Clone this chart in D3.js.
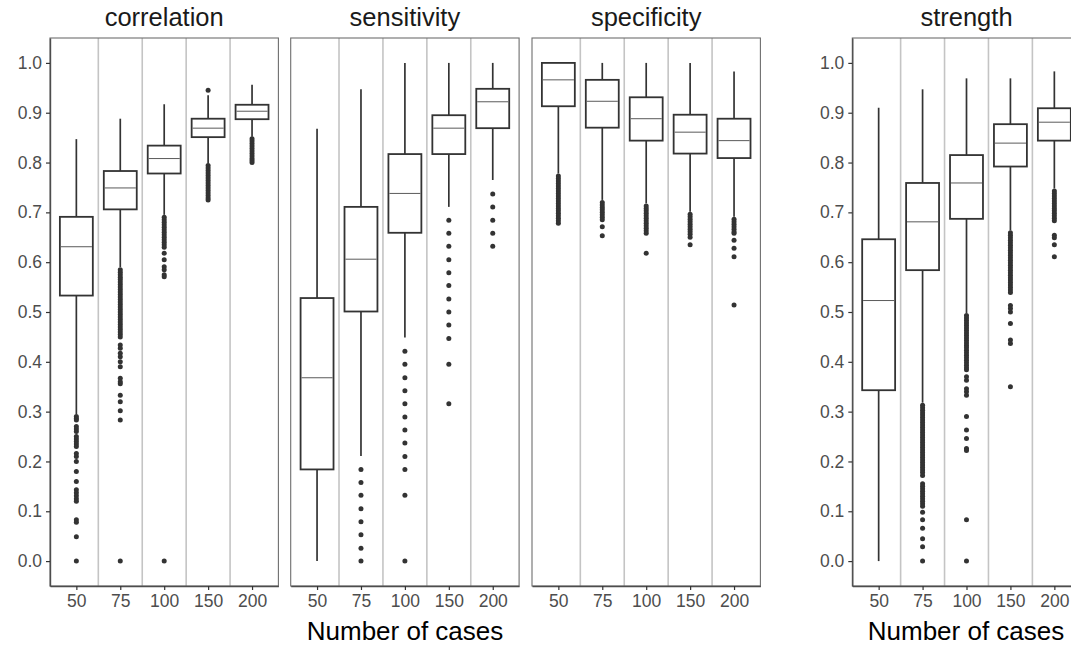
<!DOCTYPE html>
<html>
<head>
<meta charset="utf-8">
<script src="https://cdn.jsdelivr.net/npm/d3@7"></script>
<style>
  html, body { margin: 0; padding: 0; background: #ffffff; }
  svg { display: block; font-family: "Liberation Sans", Arial, Helvetica, sans-serif; }
</style>
</head>
<body>
<svg id="chart" width="1071" height="648"></svg>
<script>
// Facet titles, x categories and y ticks
const metrics = ["correlation", "sensitivity", "specificity", "strength"];
const cases = ["50", "75", "100", "150", "200"];
const yTicks = [0, 0.1, 0.2, 0.3, 0.4, 0.5, 0.6, 0.7, 0.8, 0.9, 1.0];

// Box summaries per number of cases: [lower whisker, Q1, median, Q3, upper whisker]
const correlationStats = [
  [0.295, 0.533, 0.631, 0.691, 0.847],
  [0.590, 0.706, 0.749, 0.783, 0.888],
  [0.695, 0.778, 0.808, 0.834, 0.917],
  [0.798, 0.851, 0.869, 0.888, 0.935],
  [0.852, 0.887, 0.903, 0.916, 0.956]
];
const correlationOutliers = [
  [0.290, 0.286, 0.283, 0.270, 0.265, 0.260, 0.250, 0.245, 0.240, 0.235, 0.230, 0.216, 0.210,
   0.200, 0.180, 0.160, 0.143, 0.137, 0.131, 0.125, 0.120, 0.083, 0.078, 0.049, 0.000],
  [0.585, 0.580, 0.575, 0.570, 0.565, 0.560, 0.555, 0.550, 0.545, 0.540, 0.535, 0.530, 0.525,
   0.520, 0.515, 0.510, 0.505, 0.500, 0.495, 0.490, 0.485, 0.480, 0.475, 0.470, 0.465, 0.460,
   0.455, 0.450, 0.434, 0.427, 0.417, 0.410, 0.400, 0.390, 0.367, 0.360, 0.356, 0.333, 0.320,
   0.302, 0.283, 0.000],
  [0.690, 0.685, 0.680, 0.675, 0.670, 0.665, 0.660, 0.655, 0.650, 0.645, 0.640, 0.635, 0.630,
   0.618, 0.605, 0.591, 0.585, 0.575, 0.571, 0.000],
  [0.945, 0.794, 0.789, 0.784, 0.779, 0.774, 0.769, 0.764, 0.759, 0.754, 0.749, 0.744, 0.739,
   0.734, 0.729, 0.725],
  [0.848, 0.843, 0.838, 0.833, 0.828, 0.823, 0.818, 0.813, 0.808, 0.804, 0.800]
];

const sensitivityStats = [
  [0.000, 0.184, 0.368, 0.528, 0.868],
  [0.211, 0.501, 0.606, 0.711, 0.947],
  [0.449, 0.659, 0.738, 0.817, 1.000],
  [0.711, 0.817, 0.869, 0.895, 1.000],
  [0.765, 0.869, 0.922, 0.948, 1.000]
];
const sensitivityOutliers = [
  [],
  [0.184, 0.158, 0.132, 0.105, 0.079, 0.053, 0.026, 0.000],
  [0.421, 0.395, 0.368, 0.342, 0.316, 0.289, 0.263, 0.237, 0.210, 0.184, 0.132, 0.000],
  [0.684, 0.658, 0.632, 0.605, 0.579, 0.553, 0.526, 0.500, 0.474, 0.447, 0.395, 0.316],
  [0.737, 0.711, 0.684, 0.658, 0.632]
];

const specificityStats = [
  [0.778, 0.913, 0.966, 1.000, 1.000],
  [0.725, 0.870, 0.923, 0.966, 1.000],
  [0.718, 0.844, 0.888, 0.931, 1.000],
  [0.701, 0.818, 0.861, 0.896, 1.000],
  [0.691, 0.809, 0.844, 0.888, 0.983]
];
const specificityOutliers = [
  [0.773, 0.768, 0.763, 0.758, 0.753, 0.748, 0.743, 0.738, 0.733, 0.728, 0.723, 0.718, 0.713,
   0.708, 0.703, 0.698, 0.693, 0.688, 0.683, 0.678],
  [0.720, 0.715, 0.710, 0.705, 0.700, 0.695, 0.690, 0.685, 0.671, 0.653],
  [0.713, 0.708, 0.703, 0.698, 0.693, 0.688, 0.683, 0.678, 0.673, 0.668, 0.663, 0.658, 0.618],
  [0.696, 0.691, 0.686, 0.681, 0.676, 0.671, 0.666, 0.661, 0.656, 0.650, 0.635],
  [0.686, 0.681, 0.676, 0.671, 0.666, 0.661, 0.658, 0.644, 0.628, 0.611, 0.514]
];

const strengthStats = [
  [0.000, 0.343, 0.523, 0.646, 0.910],
  [0.318, 0.584, 0.681, 0.759, 0.947],
  [0.498, 0.687, 0.759, 0.815, 0.969],
  [0.664, 0.792, 0.839, 0.877, 0.969],
  [0.748, 0.844, 0.881, 0.909, 0.983]
];
const strengthOutliers = [
  [],
  [0.313, 0.308, 0.303, 0.298, 0.293, 0.288, 0.283, 0.278, 0.273, 0.268, 0.263, 0.258, 0.253,
   0.248, 0.243, 0.238, 0.233, 0.228, 0.223, 0.218, 0.213, 0.208, 0.203, 0.198, 0.193, 0.188,
   0.183, 0.178, 0.172, 0.155, 0.150, 0.145, 0.140, 0.135, 0.130, 0.125, 0.120, 0.115, 0.110,
   0.098, 0.083, 0.066, 0.045, 0.029, 0.000],
  [0.493, 0.488, 0.483, 0.478, 0.473, 0.468, 0.463, 0.458, 0.453, 0.448, 0.443, 0.438, 0.433,
   0.428, 0.423, 0.418, 0.413, 0.408, 0.403, 0.398, 0.393, 0.388, 0.384, 0.370, 0.363, 0.346,
   0.340, 0.333, 0.290, 0.263, 0.246, 0.226, 0.222, 0.083, 0.000],
  [0.659, 0.654, 0.649, 0.644, 0.639, 0.634, 0.629, 0.624, 0.619, 0.614, 0.609, 0.604, 0.599,
   0.594, 0.589, 0.584, 0.579, 0.574, 0.569, 0.564, 0.559, 0.554, 0.549, 0.544, 0.539, 0.513,
   0.507, 0.500, 0.477, 0.444, 0.437, 0.350],
  [0.743, 0.738, 0.733, 0.728, 0.723, 0.718, 0.713, 0.708, 0.703, 0.698, 0.693, 0.688, 0.683,
   0.654, 0.649, 0.635, 0.611]
];

const statsByMetric = [correlationStats, sensitivityStats, specificityStats, strengthStats];
const outliersByMetric = [correlationOutliers, sensitivityOutliers, specificityOutliers, strengthOutliers];

// Layout
const panelLeft = [50, 290.7, 532, 852.3];
const panelWidth = 228.4;
const panelTop = 38;
const panelBottom = 586;
const showYAxis = [true, false, false, true];
const xTitleCenters = [405, 966];

const svg = d3.select("#chart");

const y = d3.scaleLinear().domain([-0.05, 1.05]).range([panelBottom, panelTop]);

metrics.forEach((metric, m) => {
  const g = svg.append("g").attr("transform", `translate(${panelLeft[m]},0)`);
  const x = d3.scalePoint().domain(cases).range([0, panelWidth]).padding(0.6);
  const step = x.step();
  const boxW = step * 0.75;

  // Separators between case groups
  g.selectAll("line.sep")
    .data(cases.slice(0, -1))
    .join("line")
    .attr("class", "sep")
    .attr("x1", d => x(d) + step / 2)
    .attr("x2", d => x(d) + step / 2)
    .attr("y1", panelTop)
    .attr("y2", panelBottom)
    .attr("stroke", "#c4c4c4")
    .attr("stroke-width", 1.6);

  const stats = statsByMetric[m];
  const outs = outliersByMetric[m];

  cases.forEach((c, i) => {
    const [lo, q1, med, q3, hi] = stats[i];
    const cx = x(c);
    const bg = g.append("g");
    // whiskers
    bg.append("line")
      .attr("x1", cx).attr("x2", cx)
      .attr("y1", y(q3)).attr("y2", y(hi))
      .attr("stroke", "#333333").attr("stroke-width", 1.7);
    bg.append("line")
      .attr("x1", cx).attr("x2", cx)
      .attr("y1", y(q1)).attr("y2", y(lo))
      .attr("stroke", "#333333").attr("stroke-width", 1.7);
    // box
    bg.append("rect")
      .attr("x", cx - boxW / 2)
      .attr("y", y(q3))
      .attr("width", boxW)
      .attr("height", y(q1) - y(q3))
      .attr("fill", "#ffffff")
      .attr("stroke", "#333333")
      .attr("stroke-width", 1.8);
    // median
    bg.append("line")
      .attr("x1", cx - boxW / 2 + 0.9).attr("x2", cx + boxW / 2 - 0.9)
      .attr("y1", y(med)).attr("y2", y(med))
      .attr("stroke", "#5a5a5a").attr("stroke-width", 1);
    // outliers
    bg.selectAll("circle")
      .data(outs[i])
      .join("circle")
      .attr("cx", cx)
      .attr("cy", d => y(d))
      .attr("r", 2.5)
      .attr("fill", "#333333");
  });

  // Panel border
  g.append("rect")
    .attr("x", 0).attr("y", panelTop)
    .attr("width", panelWidth).attr("height", panelBottom - panelTop)
    .attr("fill", "none")
    .attr("stroke", "#6e6e6e")
    .attr("stroke-width", 1.1);

  // x axis
  const xAxis = g.append("g")
    .attr("transform", `translate(0,${panelBottom})`)
    .call(d3.axisBottom(x).tickSizeInner(4).tickSizeOuter(0).tickPadding(5));
  xAxis.select(".domain").attr("stroke", "#4d4d4d").attr("stroke-width", 1.4);
  xAxis.selectAll(".tick line").attr("stroke", "#333333").attr("stroke-width", 1.2);
  xAxis.selectAll(".tick text")
    .attr("fill", "#4d4d4d")
    .style("font-size", "17.5px");

  // y axis
  if (showYAxis[m]) {
    const yAxis = g.append("g")
      .call(d3.axisLeft(y).tickValues(yTicks).tickFormat(d3.format(".1f"))
        .tickSizeInner(4).tickSizeOuter(0).tickPadding(4));
    yAxis.select(".domain").attr("stroke", "#4d4d4d").attr("stroke-width", 1.4);
    yAxis.selectAll(".tick line").attr("stroke", "#333333").attr("stroke-width", 1.2);
    yAxis.selectAll(".tick text")
      .attr("fill", "#4d4d4d")
      .style("font-size", "17.5px");
  }

  // Facet title
  g.append("text")
    .attr("x", panelWidth / 2)
    .attr("y", 26)
    .attr("text-anchor", "middle")
    .attr("fill", "#1a1a1a")
    .style("font-size", "25.5px")
    .text(metric);
});

// x axis titles
svg.selectAll("text.xtitle")
  .data(xTitleCenters)
  .join("text")
  .attr("class", "xtitle")
  .attr("x", d => d)
  .attr("y", 640)
  .attr("text-anchor", "middle")
  .attr("fill", "#000000")
  .style("font-size", "26px")
  .text("Number of cases");
</script>
</body>
</html>
